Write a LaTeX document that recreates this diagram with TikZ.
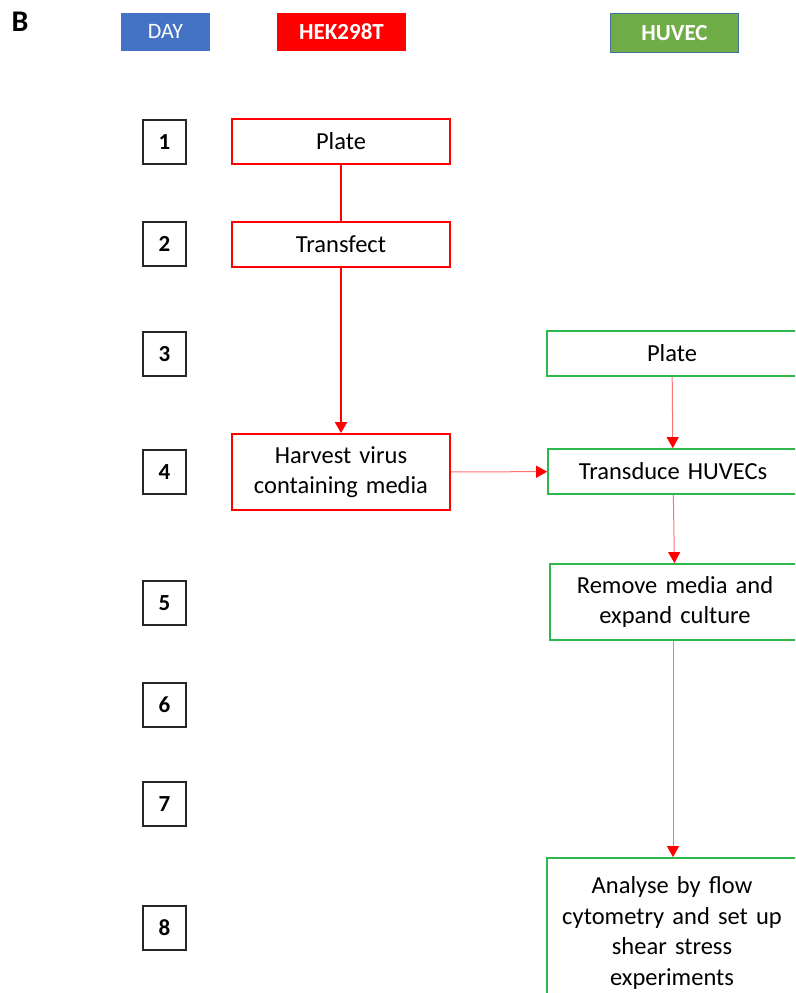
\documentclass[tikz,border=0pt]{standalone}
\usepackage{fontspec}
\setmainfont{Carlito}
\usetikzlibrary{arrows.meta}
\definecolor{dayblue}{HTML}{4472C4}
\definecolor{huvgreen}{HTML}{70AD47}
\definecolor{huvedge}{HTML}{41719C}
\definecolor{stepgreen}{HTML}{2DB84C}

\begin{document}
\begin{tikzpicture}[x=1pt,y=-1pt,
    header/.style={minimum height=38, inner sep=0pt, text=white, font=\fontsize{22}{26}\selectfont},
    daybox/.style={draw=black!85, line width=1.8, minimum width=43, minimum height=44, inner sep=0pt, font=\bfseries\fontsize{23}{26}\selectfont},
    hekbox/.style={draw=red, line width=1.8, minimum width=218, text width=210, align=center, inner sep=0pt, font=\fontsize{24.5}{30.5}\selectfont},
    huvbox/.style={draw=stepgreen, line width=1.8, minimum width=250, text width=240, align=center, inner sep=0pt, font=\fontsize{24.5}{30.5}\selectfont},
    link/.style={draw=red!55, line width=1, -{Triangle[red,length=11,width=12]}}]
                    \clip (0,0) rectangle (795,993);
                    \fill[white] (0,0) rectangle (795,993);
                    \node[font=\bfseries\fontsize{30}{34}\selectfont] (lbl) at (20,22) {B};

                    % column headers
                    \node[header, fill=dayblue, minimum width=89] (day) at (165.5,31.5) {DAY};
                    \node[header, fill=red, minimum width=129, font=\bfseries\fontsize{23}{26}\selectfont] (hek) at (341.5,31.5) {HEK298T};
                    \node[header, fill=huvgreen, draw=huvedge, line width=1.8, minimum width=128, minimum height=39, font=\bfseries\fontsize{23}{26}\selectfont] (huv) at (674.5,33) {HUVEC};

                    % days
                    \node[daybox] (d1) at (164.5,142) {1};
                    \node[daybox] (d2) at (164.5,244) {2};
                    \node[daybox] (d3) at (164.5,354) {3};
                    \node[daybox] (d4) at (164.5,472) {4};
                    \node[daybox] (d5) at (164.5,603) {5};
                    \node[daybox] (d6) at (164.5,705) {6};
                    \node[daybox] (d7) at (164.5,804) {7};
                    \node[daybox] (d8) at (164.5,928) {8};

                    % HEK298T steps
                    \node[hekbox, minimum height=45] (hplate) at (341,141.5) {Plate};
                    \node[hekbox, minimum height=45] (transfect) at (341,244.5) {Transfect};
                    \node[hekbox, minimum height=76] (harvest) at (341,472) {Harvest virus\\containing media};

                    % HUVEC steps
                    \node[huvbox, minimum height=45] (uplate) at (672,353.5) {Plate};
                    \node[huvbox, minimum height=45] (transduce) at (673,471.5) {Transduce HUVECs};
                    \node[huvbox, minimum height=76] (expand) at (675,602) {Remove media and\\expand culture};
                    \node[huvbox, minimum height=150] (analyse) at (672,933) {Analyse by flow\\cytometry and set up\\shear stress\\experiments};

                    \draw[red, line width=1.8] (hplate) -- (transfect);
                    \draw[red, line width=1.8, -{Triangle[length=11,width=12]}] (transfect) -- (harvest);
                    \draw[link] (harvest) -- (transduce);
                    \draw[link] (uplate) -- (transduce);
                    \draw[link] (transduce) -- (expand);
                    \draw[link] (expand.south -| 673,0) -- (analyse.north -| 673,0);
                \end{tikzpicture}
\end{document}
